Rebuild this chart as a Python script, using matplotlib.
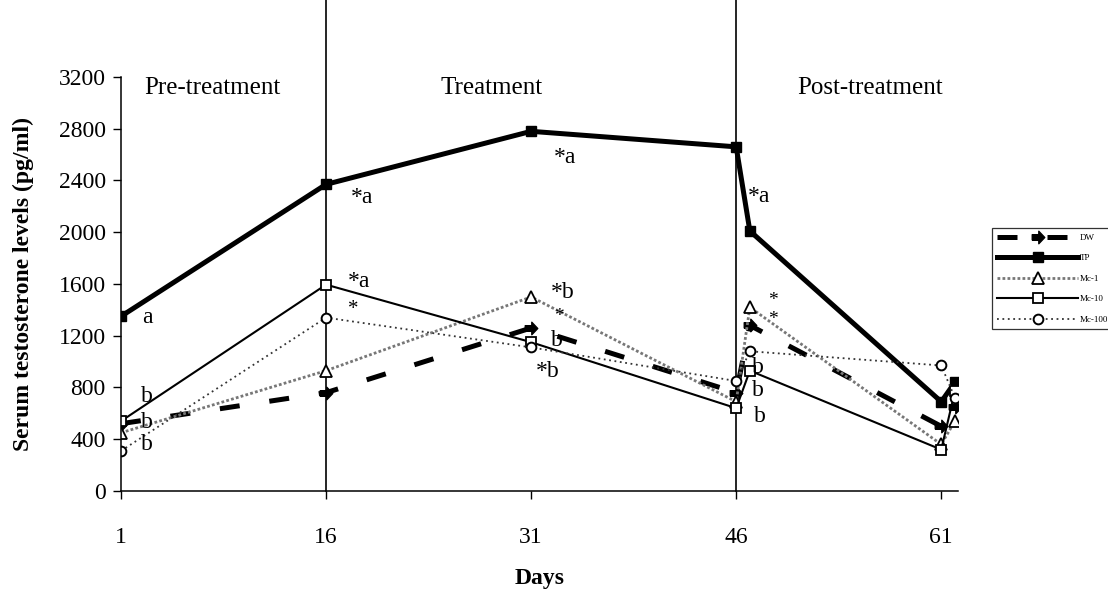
import matplotlib
matplotlib.use("Agg")
import matplotlib.pyplot as plt

plt.rcParams['font.family'] = ['Liberation Serif', 'DejaVu Serif']

# Sampling days and serum testosterone (pg/ml) for each group
days = [1, 16, 31, 46, 47, 61, 62]
dw = [520, 760, 1260, 760, 1280, 500, 650]
tp = [1350, 2370, 2780, 2660, 2010, 690, 840]
mc1 = [450, 930, 1500, 690, 1420, 360, 540]
mc10 = [540, 1595, 1150, 640, 930, 320, 770]
mc100 = [310, 1340, 1110, 850, 1080, 970, 720]

series_names = ['DW', 'TP', 'Mc-1', 'Mc-10', 'Mc-100']
x_ticks = [1, 16, 31, 46, 61]
y_ticks = [0, 400, 800, 1200, 1600, 2000, 2400, 2800, 3200]
phases = ['Pre-treatment', 'Treatment', 'Post-treatment']

# significance letters: (day, value, text, font size)
sig_labels = [
    (2.9, 1340, 'a', 17), (2.9, 727, 'b', 17), (2.9, 533, 'b', 17),
    (2.9, 356, 'b', 17),
    (18.6, 2265, '*a', 17), (18.4, 1616, '*a', 17), (18.0, 1400, '*', 15),
    (33.5, 2574, '*a', 17), (33.3, 1535, '*b', 17), (33.0, 1345, '*', 14),
    (32.9, 1167, 'b', 17), (32.2, 920, '*b', 17),
    (47.7, 2273, '*a', 17), (48.7, 1475, '*', 14), (48.7, 1325, '*', 14),
    (47.6, 958, 'b', 17), (47.6, 780, 'b', 17), (47.7, 572, 'b', 17),
]

arrow = [(-1, -0.45), (0.05, -0.45), (0.05, -1), (1, 0), (0.05, 1),
         (0.05, 0.45), (-1, 0.45), (-1, -0.45)]

fig = plt.figure(figsize=(11.08, 5.89), dpi=100)
ax = fig.add_axes([0.1092, 0.1664, 0.7551, 0.7029])

ax.plot(days, dw, color='black', lw=3.6, ls=(0, (4, 6)),
        marker=arrow, ms=9, mfc='black', mec='black', label=series_names[0])
ax.plot(days, tp, color='black', lw=3.6, ls='-',
        marker='s', ms=7, mfc='black', mec='black', label=series_names[1])
ax.plot(days, mc1, color='#777777', lw=2.0, ls=(0, (1, 0.8)),
        marker='^', ms=8, mfc='white', mec='black', mew=1.3, label=series_names[2])
ax.plot(days, mc10, color='black', lw=1.5, ls='-',
        marker='s', ms=6.5, mfc='white', mec='black', mew=1.3, label=series_names[3])
ax.plot(days, mc100, color='#333333', lw=1.3, ls=(0, (1, 2)),
        marker='o', ms=7, mfc='white', mec='black', mew=1.4, label=series_names[4])

# phase boundaries
for d in (16, 46):
    ax.plot([d, d], [0, 3800], color='black', lw=1.2, clip_on=False, zorder=1)

ax.set_xlim(1, 62.2)
ax.set_ylim(0, 3200)
ax.set_xticks(x_ticks)
ax.set_yticks(y_ticks)
ax.tick_params(axis='both', labelsize=17, direction='out', length=6, width=1)
ax.tick_params(axis='x', pad=20)
ax.tick_params(axis='y', pad=5)
for s in ('top', 'right'):
    ax.spines[s].set_visible(False)
ax.spines['left'].set_linewidth(1.1)
ax.spines['bottom'].set_linewidth(1.1)

ax.set_xlabel('Days', fontsize=17, fontweight='bold', labelpad=14)
ax.set_ylabel('Serum testosterone levels (pg/ml)', fontsize=17,
              fontweight='bold', labelpad=18)

for xd, txt in zip((7.7, 28.1, 55.8), phases):
    ax.text(xd, 3115, txt, fontsize=18, ha='center', va='center', clip_on=False)

for xd, yv, txt, fs in sig_labels:
    ax.text(xd, yv, txt, fontsize=fs, ha='center', va='center')

leg = fig.legend(loc='upper left', bbox_to_anchor=(0.895, 0.613),
                 fontsize=6.5, handlelength=9, labelspacing=1.35,
                 borderpad=0.6, handletextpad=0.2, borderaxespad=0,
                 frameon=True, fancybox=False, edgecolor='black')
leg.get_frame().set_linewidth(0.9)

fig.savefig('out.png', dpi=100)
